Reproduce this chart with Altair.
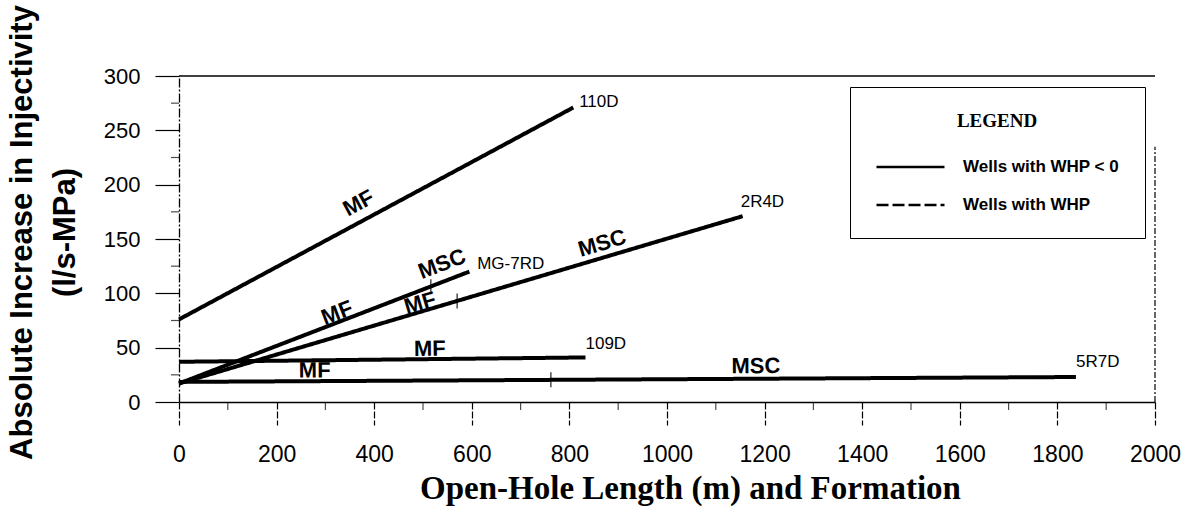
import math
import altair as alt
import pandas as pd

# ---- data ----
wells = ["110D", "MG-7RD", "2R4D", "109D", "5R7D"]
x_start = [0, 0, 0, 0, 0]
y_start = [76, 17, 17, 37, 18.5]
x_end = [808, 595, 1155, 833, 1838]
y_end = [271, 120, 171, 41, 23]

name_x = [820, 611, 1151, 833, 1838]
name_y = [276, 127, 184, 53, 37]

form_text = ["MF", "MF", "MSC", "MF", "MSC", "MF", "MF", "MSC"]
form_well = ["110D", "MG-7RD", "MG-7RD", "2R4D", "2R4D", "109D", "5R7D", "5R7D"]
form_x = [368, 324, 539, 494, 867, 514, 278, 1182]
form_y = [183, 82, 127, 91, 146, 49, 29, 33]

bnd_well = ["MG-7RD", "2R4D", "5R7D"]
bnd_x = [516, 570, 762]
bnd_y = [106, 93, 20.5]

x_major = list(range(0, 2001, 200))
x_minor = list(range(100, 2000, 200))
y_major = list(range(0, 301, 50))
y_minor = list(range(25, 300, 50))

legend_kinds = ["Wells with WHP < 0", "Wells with WHP"]

W, H = 976, 326
XMAX, YMAX = 2000, 300

# ---- tables ----
rows = []
for w, a, b, c, d in zip(wells, x_start, y_start, x_end, y_end):
    rows.append({"well": w, "x": a, "y": b, "kind": legend_kinds[0]})
    rows.append({"well": w, "x": c, "y": d, "kind": legend_kinds[0]})
lines_df = pd.DataFrame(rows)

names_df = pd.DataFrame({"name": wells, "x": name_x, "y": name_y})

kx, ky = W / XMAX, H / YMAX
slope_angle = {}
for w, a, b, c, d in zip(wells, x_start, y_start, x_end, y_end):
    ang = math.degrees(math.atan2(-(d - b) * ky, (c - a) * kx))
    slope_angle[w] = ang % 360
form_df = pd.DataFrame({
    "text": form_text, "x": form_x, "y": form_y,
    "angle": [slope_angle[w] for w in form_well],
})
bnd_df = pd.DataFrame({"x": bnd_x, "y": bnd_y})
xminor_df = pd.DataFrame({"x": x_minor})
yminor_df = pd.DataFrame({"y": y_minor})

xs = alt.Scale(domain=[0, XMAX], nice=False, zero=False)
ys = alt.Scale(domain=[0, YMAX], nice=False, zero=False)

x_axis = alt.Axis(
    values=x_major, format="d", labelFlush=False,
    tickSize=23, tickColor="black", tickWidth=1.2, tickDash=[7, 2],
    domainColor="black", domainWidth=1.5, grid=False,
    labelFont="Liberation Sans", labelFontSize=23, labelColor="black", labelPadding=18,
    title="Open-Hole Length (m) and Formation", titleFont="Liberation Serif",
    titleFontSize=33, titleFontWeight="bold", titleColor="black",
    titleX=511, titleY=96, titleBaseline="alphabetic", titleAlign="center",
)
y_axis = alt.Axis(
    values=y_major, format="d", labelFlush=False,
    tickSize=24, tickColor="black", tickWidth=1.2,
    domainColor="black", domainWidth=1.3, domainDash=[9, 2, 2, 2], grid=False,
    labelFont="Liberation Sans", labelFontSize=22, labelColor="black", labelPadding=15,
    title=["Absolute Increase in Injectivity", "(l/s-MPa)"],
    titleFont="Liberation Sans", titleFontSize=31, titleFontWeight="bold",
    titleColor="black", titleAngle=270, titleBaseline="top", titleAlign="center",
    titleX=-172, titleY=156, titleLineHeight=43,
)

legend = alt.Legend(
    title="LEGEND", orient="none", legendX=671, legendY=11,
    titleFont="Liberation Serif", titleFontSize=19, titleFontWeight="bold",
    titleColor="black", titleAnchor="middle", titlePadding=26,
    padding=25, strokeColor="black", fillColor="white",
    labelFont="Liberation Sans", labelFontSize=17, labelFontWeight="bold",
    labelColor="black", labelOffset=68, labelLimit=400,
    symbolType="M-1,0H7", symbolSize=289, symbolStrokeWidth=2.5,
    symbolStrokeColor="black", rowPadding=20,
)

well_lines = alt.Chart(lines_df).mark_line(color="black", strokeWidth=4).encode(
    x=alt.X("x:Q", scale=xs, axis=x_axis),
    y=alt.Y("y:Q", scale=ys, axis=y_axis),
    detail="well:N",
    strokeDash=alt.StrokeDash(
        "kind:N",
        scale=alt.Scale(domain=legend_kinds, range=[[1, 0], [12, 4]]),
        legend=legend,
    ),
)

top_rule = alt.Chart().mark_rule(color="black", strokeWidth=1.5).encode(
    y=alt.datum(YMAX), x=alt.datum(0), x2=alt.datum(XMAX)
)
right_rule = alt.Chart().mark_rule(color="black", strokeWidth=1.2, strokeDash=[6, 2, 2, 2]).encode(
    x=alt.datum(XMAX), y=alt.datum(0), y2=alt.datum(235)
)

xminor = alt.Chart(xminor_df).mark_tick(
    orient="vertical", size=8, thickness=1.2, color="black", yOffset=4
).encode(x=alt.X("x:Q", scale=xs), y=alt.datum(0))
yminor = alt.Chart(yminor_df).mark_tick(
    orient="horizontal", size=8, thickness=1.2, color="black", xOffset=-4
).encode(y=alt.Y("y:Q", scale=ys), x=alt.datum(0))

bnd = alt.Chart(bnd_df).mark_tick(
    orient="vertical", size=15, thickness=1.5, color="black"
).encode(x=alt.X("x:Q", scale=xs), y=alt.Y("y:Q", scale=ys))

form_labels = alt.Chart(form_df).mark_text(
    font="Liberation Sans", fontSize=22, fontWeight="bold", color="black",
    align="center", baseline="middle",
).encode(
    x=alt.X("x:Q", scale=xs), y=alt.Y("y:Q", scale=ys),
    text="text:N", angle=alt.Angle("angle:Q", scale=None),
)

name_labels = alt.Chart(names_df).mark_text(
    font="Liberation Sans", fontSize=17, color="black", align="left", baseline="middle",
).encode(x=alt.X("x:Q", scale=xs), y=alt.Y("y:Q", scale=ys), text="name:N")

chart = alt.layer(
    top_rule, right_rule, xminor, yminor, well_lines, bnd, form_labels, name_labels
).properties(
    width=W, height=H,
    autosize=alt.AutoSizeParams(type="none"),
    padding={"left": 179, "top": 76, "right": 35, "bottom": 107},
    background="white",
).configure_view(stroke=None)

chart.save("out.html", embed_options={"renderer": "svg", "actions": False})
